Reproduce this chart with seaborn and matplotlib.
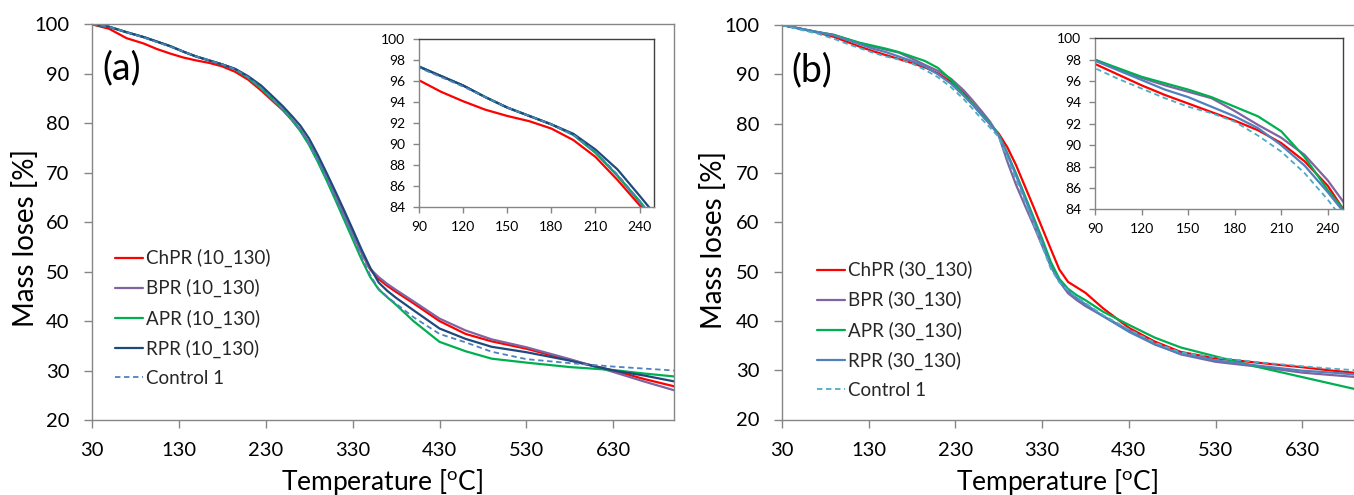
import matplotlib
matplotlib.use("Agg")
import matplotlib.pyplot as plt
import seaborn as sns
import numpy as np
import pandas as pd

# ---------------- data ----------------
temperature = [30, 50, 70, 90, 105, 120, 135, 150, 165, 180, 195, 210, 225, 240, 250, 260,
               270, 280, 290, 300, 310, 320, 330, 340, 350, 360, 370, 380, 400, 430, 460,
               490, 530, 580, 630, 665, 700]

a_chpr = [100.0, 99.1, 97.2, 96.1, 95.0, 94.1, 93.3, 92.7, 92.2, 91.5, 90.4, 88.8, 86.6, 84.2,
          82.6, 80.7, 78.6, 75.9, 72.6, 69.0, 65.3, 61.6, 57.8, 54.0, 50.5, 48.5, 47.1, 45.9,
          43.6, 40.0, 37.4, 35.9, 34.4, 32.1, 30.0, 28.3, 26.8]
a_bpr = [100.0, 99.5, 98.4, 97.4, 96.5, 95.6, 94.5, 93.5, 92.7, 91.9, 90.9, 89.2, 87.0, 84.5,
         82.8, 80.8, 78.7, 76.0, 72.7, 69.1, 65.4, 61.6, 57.7, 53.9, 50.6, 48.9, 47.5, 46.3,
         44.0, 40.5, 38.1, 36.3, 34.7, 32.3, 29.7, 27.8, 26.0]
a_apr = [100.0, 99.5, 98.4, 97.4, 96.5, 95.6, 94.5, 93.5, 92.7, 91.9, 90.9, 89.2, 87.0, 84.6,
         82.8, 80.7, 78.4, 75.6, 72.2, 68.5, 64.6, 60.6, 56.6, 52.6, 49.0, 46.4, 44.8, 43.3,
         40.0, 35.8, 33.9, 32.4, 31.6, 30.7, 30.1, 29.4, 28.8]
a_rpr = [100.0, 99.5, 98.4, 97.4, 96.5, 95.6, 94.5, 93.5, 92.7, 91.9, 91.0, 89.5, 87.6, 85.1,
         83.4, 81.5, 79.5, 76.9, 73.6, 70.0, 66.3, 62.5, 58.6, 54.6, 50.9, 47.8, 46.1, 44.7,
         42.2, 38.5, 36.4, 34.8, 33.7, 32.0, 30.0, 29.0, 27.8]
a_ctrl = [100.0, 99.5, 98.4, 97.3, 96.4, 95.5, 94.5, 93.5, 92.7, 91.9, 90.9, 89.3, 87.1, 84.6,
          82.8, 80.7, 78.5, 75.7, 72.4, 68.8, 65.0, 61.1, 57.1, 53.1, 49.4, 46.5, 44.9, 43.5,
          40.8, 37.4, 35.7, 33.8, 32.3, 31.5, 30.8, 30.4, 30.0]

b_chpr = [100.0, 99.3, 98.5, 97.6, 96.6, 95.6, 94.7, 93.9, 93.1, 92.3, 91.4, 90.2, 88.5, 86.2,
          84.0, 81.9, 79.9, 78.0, 75.2, 71.6, 67.4, 63.2, 58.9, 54.6, 50.4, 47.9, 46.8, 45.7,
          42.6, 38.6, 35.8, 33.7, 32.4, 31.5, 30.6, 29.9, 29.3]
b_bpr = [100.0, 99.3, 98.6, 98.0, 97.1, 96.3, 95.6, 95.0, 94.4, 93.2, 91.9, 90.7, 89.1, 86.7,
         84.7, 82.6, 80.4, 77.6, 72.3, 67.6, 63.5, 59.5, 55.3, 51.3, 48.0, 45.6, 44.2, 43.0,
         41.0, 38.1, 35.3, 33.2, 31.7, 30.7, 29.5, 29.0, 28.5]
b_apr = [100.0, 99.3, 98.6, 98.0, 97.2, 96.4, 95.8, 95.2, 94.5, 93.6, 92.7, 91.3, 88.9, 85.8,
         84.0, 82.0, 80.0, 77.8, 74.0, 69.9, 65.5, 61.1, 56.7, 52.0, 48.5, 46.5, 45.2, 44.2,
         41.9, 39.2, 36.6, 34.6, 32.8, 30.6, 28.6, 27.2, 25.8]
b_rpr = [100.0, 99.3, 98.6, 97.9, 97.0, 96.1, 95.2, 94.5, 93.6, 92.7, 91.6, 90.0, 88.1, 85.6,
         83.8, 81.8, 79.9, 77.6, 73.8, 69.5, 65.0, 60.5, 56.0, 51.0, 48.0, 46.0, 44.6, 43.4,
         41.0, 37.8, 35.2, 33.3, 32.0, 30.9, 29.9, 29.5, 29.0]
b_ctrl = [100.0, 99.1, 98.3, 97.2, 96.2, 95.3, 94.4, 93.6, 93.0, 92.2, 90.9, 89.4, 87.4, 84.9,
          83.0, 81.0, 79.2, 77.3, 73.0, 68.7, 64.3, 59.8, 55.2, 50.6, 47.8, 46.2, 44.8, 43.6,
          41.2, 38.3, 35.6, 33.6, 32.6, 31.6, 30.8, 30.3, 29.9]

a_labels = ["ChPR (10_130)", "BPR (10_130)", "APR (10_130)", "RPR (10_130)", "Control 1"]
b_labels = ["ChPR (30_130)", "BPR (30_130)", "APR (30_130)", "RPR (30_130)", "Control 1"]
main_xticks = [30, 130, 230, 330, 430, 530, 630]
main_yticks = [20, 30, 40, 50, 60, 70, 80, 90, 100]
inset_xticks = [90, 120, 150, 180, 210, 240]
inset_yticks = [84, 86, 88, 90, 92, 94, 96, 98, 100]

a_colors = ["#FF0000", "#8064A2", "#00B050", "#1F497D", "#4F81BD"]
b_colors = ["#FF0000", "#8064A2", "#00B050", "#4F81BD", "#4BACC6"]

# ---------------- style ----------------
sns.set_theme(style="white")
plt.rcParams["font.family"] = ["Lato", "DejaVu Sans"]
plt.rcParams["mathtext.fontset"] = "custom"
plt.rcParams["mathtext.rm"] = "Lato"
plt.rcParams["mathtext.it"] = "Lato:italic"

W, H = 1354, 495
fig = plt.figure(figsize=(W / 100, H / 100), dpi=100)
fig.patch.set_facecolor("white")


def px_axes(l, r, t, b):
    return [l / W, (H - b) / H, (r - l) / W, (b - t) / H]


GRAY = "#868686"


def draw_series(ax, series, labels, colors, with_label):
    for vals, lab, col in zip(series, labels, colors):
        dashed = lab.startswith("Control")
        sns.lineplot(x=temperature, y=vals, color=col, ax=ax,
                     linewidth=1.3 if dashed else 1.6,
                     linestyle=(0, (3, 2)) if dashed else "-",
                     label=lab if with_label else None, legend=False)


def style_main(ax):
    ax.set_xlim(30, 700)
    ax.set_ylim(20, 100)
    ax.set_xticks(main_xticks)
    ax.set_yticks(main_yticks)
    for s in ax.spines.values():
        s.set_visible(True)
        s.set_color(GRAY)
        s.set_linewidth(1.0)
    ax.tick_params(axis="both", which="major", bottom=True, left=True, direction="out",
                   length=6, width=1.0, color=GRAY, labelsize=14.5, labelcolor="black")
    ax.tick_params(axis="x", pad=10)
    ax.tick_params(axis="y", pad=10)
    ax.set_xlabel("Temperature [$^{\\mathrm{o}}$C]", fontsize=19, color="black")
    ax.set_ylabel("Mass loses [%]", fontsize=20, color="black")
    ax.xaxis.label.set_va("center")
    ax.yaxis.label.set_va("center")
    ax.grid(False)


def style_inset(ax):
    ax.set_xlim(90, 250)
    ax.set_ylim(84, 100)
    ax.set_xticks(inset_xticks)
    ax.set_yticks(inset_yticks)
    ax.set_xlabel("")
    ax.set_ylabel("")
    for k, s in ax.spines.items():
        s.set_visible(True)
        s.set_linewidth(1.0)
        s.set_color("#404040" if k in ("top", "right") else GRAY)
    ax.tick_params(axis="both", bottom=True, left=True, direction="out", length=4,
                   width=1.0, color=GRAY, labelsize=10, labelcolor="black", pad=6)
    ax.set_facecolor("white")
    ax.grid(False)


panels = [
    dict(series=[a_chpr, a_bpr, a_apr, a_rpr, a_ctrl], labels=a_labels, colors=a_colors,
         main=(91.7, 674.3, 24.3, 420.0), inset=(419.0, 654.3, 39.3, 207.3),
         tag="(a)", tagpos=(121.7, 68.0), leg=(114.7, 249.0), ylab=(25.0, 238.0), xlab=(382.0, 482.0)),
    dict(series=[b_chpr, b_bpr, b_apr, b_rpr, b_ctrl], labels=b_labels, colors=b_colors,
         main=(781.8, 1363.0, 25.0, 419.5), inset=(1095.0, 1343.3, 38.3, 209.3),
         tag="(b)", tagpos=(811.6, 70.0), leg=(816.6, 261.0), ylab=(714.0, 240.0), xlab=(1057.0, 482.0)),
]

for p in panels:
    l, r, t, b = p["main"]
    ax = fig.add_axes(px_axes(l, r, t, b))
    ax.set_facecolor("white")
    draw_series(ax, p["series"], p["labels"], p["colors"], True)
    style_main(ax)
    ax.yaxis.set_label_coords((p["ylab"][0] - l) / (r - l), (b - p["ylab"][1]) / (b - t))
    ax.xaxis.set_label_coords((p["xlab"][0] - l) / (r - l), (b - p["xlab"][1]) / (b - t))
    handles, labels = ax.get_legend_handles_labels()
    ax.legend(handles, labels, loc="upper left",
              bbox_to_anchor=((p["leg"][0] - l) / (r - l), (b - p["leg"][1]) / (b - t)),
              bbox_transform=ax.transAxes, frameon=False, fontsize=13.5,
              handlelength=1.5, handletextpad=0.15, labelspacing=0.63,
              borderpad=0, borderaxespad=0)
    fig.text(p["tagpos"][0] / W, 1 - p["tagpos"][1] / H, p["tag"], fontsize=27,
             ha="center", va="center", color="black")

    il, ir, it, ib = p["inset"]
    axi = fig.add_axes(px_axes(il, ir, it, ib))
    draw_series(axi, p["series"], p["labels"], p["colors"], False)
    style_inset(axi)

fig.savefig("out.png", dpi=100, facecolor="white")
